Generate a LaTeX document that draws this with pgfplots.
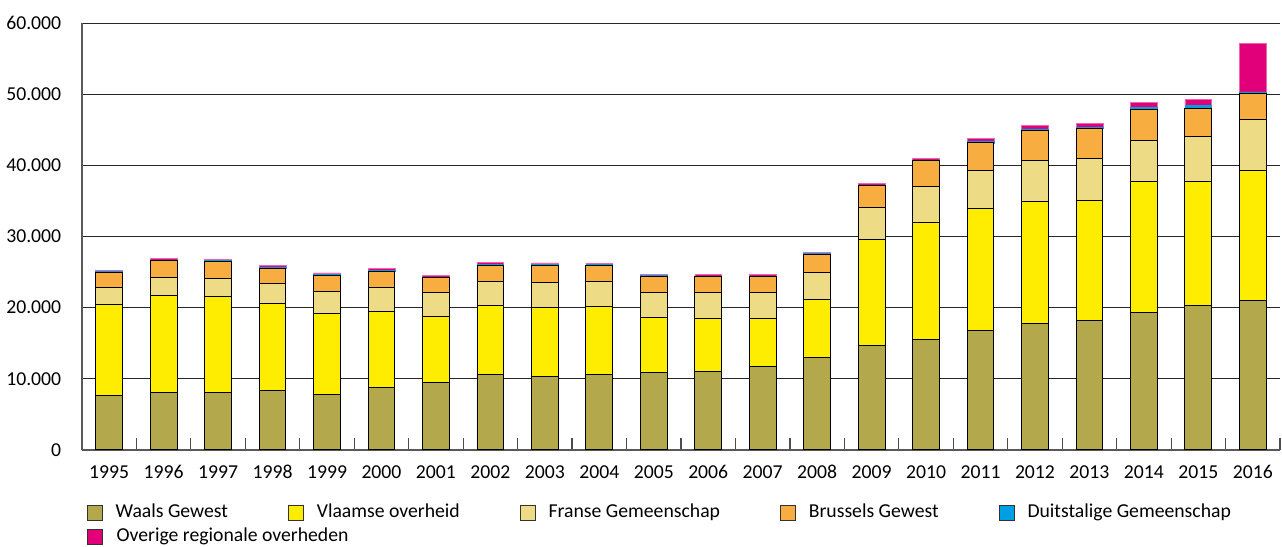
\documentclass[border=0pt]{standalone}
\usepackage{fontspec}
\setmainfont{Carlito}
\usepackage{pgfplots}
\usepackage{pgfplotstable}
\pgfplotsset{compat=1.18}

\definecolor{waals}{HTML}{B4A84C}
\definecolor{vlaams}{HTML}{FFED00}
\definecolor{frans}{HTML}{EDDC85}
\definecolor{brussel}{HTML}{F7AD40}
\definecolor{duits}{HTML}{009FE3}
\definecolor{overig}{HTML}{E2007A}

% x year Waals Vlaams Frans Brussel Duits Overig
\pgfplotstableread{
x  year W     V     F    B    D   O
0  1995 7680  12820 2340 2110 120 200
1  1996 8100  13620 2530 2330 130 250
2  1997 8100  13480 2520 2390 130 200
3  1998 8380  12210 2760 2200 130 250
4  1999 7820  11410 3050 2290 130 200
5  2000 8800  10720 3270 2340 130 250
6  2001 9550  9170  3370 2110 130 240
7  2002 10620 9650  3460 2240 130 250
8  2003 10340 9690  3510 2430 130 200
9  2004 10670 9500  3510 2250 130 190
10 2005 10900 7770  3510 2200 130 150
11 2006 11090 7440  3560 2250 130 190
12 2007 11700 6830  3650 2160 130 190
13 2008 13060 8090  3840 2480 130 150
14 2009 14740 14840 4440 3090 150 230
15 2010 15540 16380 5050 3650 150 230
16 2011 16800 17080 5390 3880 190 420
17 2012 17740 17170 5760 4260 180 520
18 2013 18200 16810 5990 4210 180 520
19 2014 19330 18390 5800 4360 320 700
20 2015 20310 17410 6320 3980 370 890
21 2016 21060 18210 7200 3560 280 6790
}\data

\begin{document}
\begin{tikzpicture}
\pgfplotsset{
  lbox/.style={legend image code/.code={
    \draw[##1, draw=black!80, line width=0.4pt] (0pt,-3.8pt) rectangle (7.6pt,3.8pt);}},
}
\begin{axis}[
  at={(0,0)}, anchor=south west,
  scale only axis,
  width=608.1pt, height=216.7pt,
  ybar stacked, bar width=13.6pt,
  xmin=-0.5, xmax=21.5,
  ymin=0, ymax=60000,
  axis lines*=left,
  axis line style={black!65, line width=0.6pt},
  xtick={0,...,21},
  xticklabels={\mbox{1995},\mbox{1996},\mbox{1997},\mbox{1998},\mbox{1999},\mbox{2000},\mbox{2001},\mbox{2002},\mbox{2003},\mbox{2004},\mbox{2005},\mbox{2006},\mbox{2007},\mbox{2008},\mbox{2009},\mbox{2010},\mbox{2011},\mbox{2012},\mbox{2013},\mbox{2014},\mbox{2015},\mbox{2016}},
  minor xtick={0.5,1.5,...,21.5},
  tick align=inside,
  major tick length=0pt,
  minor tick length=6pt,
  minor tick style={black!70, line width=0.6pt},
  ytick={0,10000,...,60000},
  scaled y ticks=false,
  ymajorgrids,
  major grid style={black!85, line width=0.5pt},
  /pgf/number format/assume math mode=true,
  /pgf/number format/1000 sep={.},
  yticklabel style={xshift=-7pt},
  xticklabel style={yshift=-4.3pt},
  legend columns=5,
  legend style={draw=none, fill=none, inner sep=0pt, outer sep=0pt,
    at={(0,0)}, anchor=north west, xshift=2.4pt, yshift=-27.2pt,
    row sep=3pt,
    nodes={inner sep=0pt, anchor=west, text height=7pt, text depth=2.2pt},
    /tikz/every odd column/.append style={column sep=6.7pt},
    /tikz/every even column/.append style={column sep=30.4pt}},
  legend cell align=left,
]
\addplot[fill=waals, draw=black, line width=0.5pt, lbox] table[x=x, y=W]{\data};
\addplot[fill=vlaams, draw=black, line width=0.5pt, lbox] table[x=x, y=V]{\data};
\addplot[fill=frans, draw=black, line width=0.5pt, lbox] table[x=x, y=F]{\data};
\addplot[fill=brussel, draw=black, line width=0.5pt, lbox] table[x=x, y=B]{\data};
\addplot[fill=duits, draw=duits, line width=0.3pt, lbox] table[x=x, y=D]{\data};
\addplot[fill=overig, draw=overig!60, line width=0.3pt, lbox] table[x=x, y=O]{\data};
\addlegendentry{Waals Gewest}
\addlegendentry{Vlaamse overheid}
\addlegendentry{Franse Gemeenschap}
\addlegendentry{Brussels Gewest}
\addlegendentry{Duitstalige Gemeenschap}
\addlegendentry{\makebox[0pt][l]{Overige regionale overheden}}
\end{axis}
\pgfresetboundingbox
\path (-41.6pt,-49.2pt) rectangle (609.1pt,228.4pt);
\end{tikzpicture}
\end{document}
